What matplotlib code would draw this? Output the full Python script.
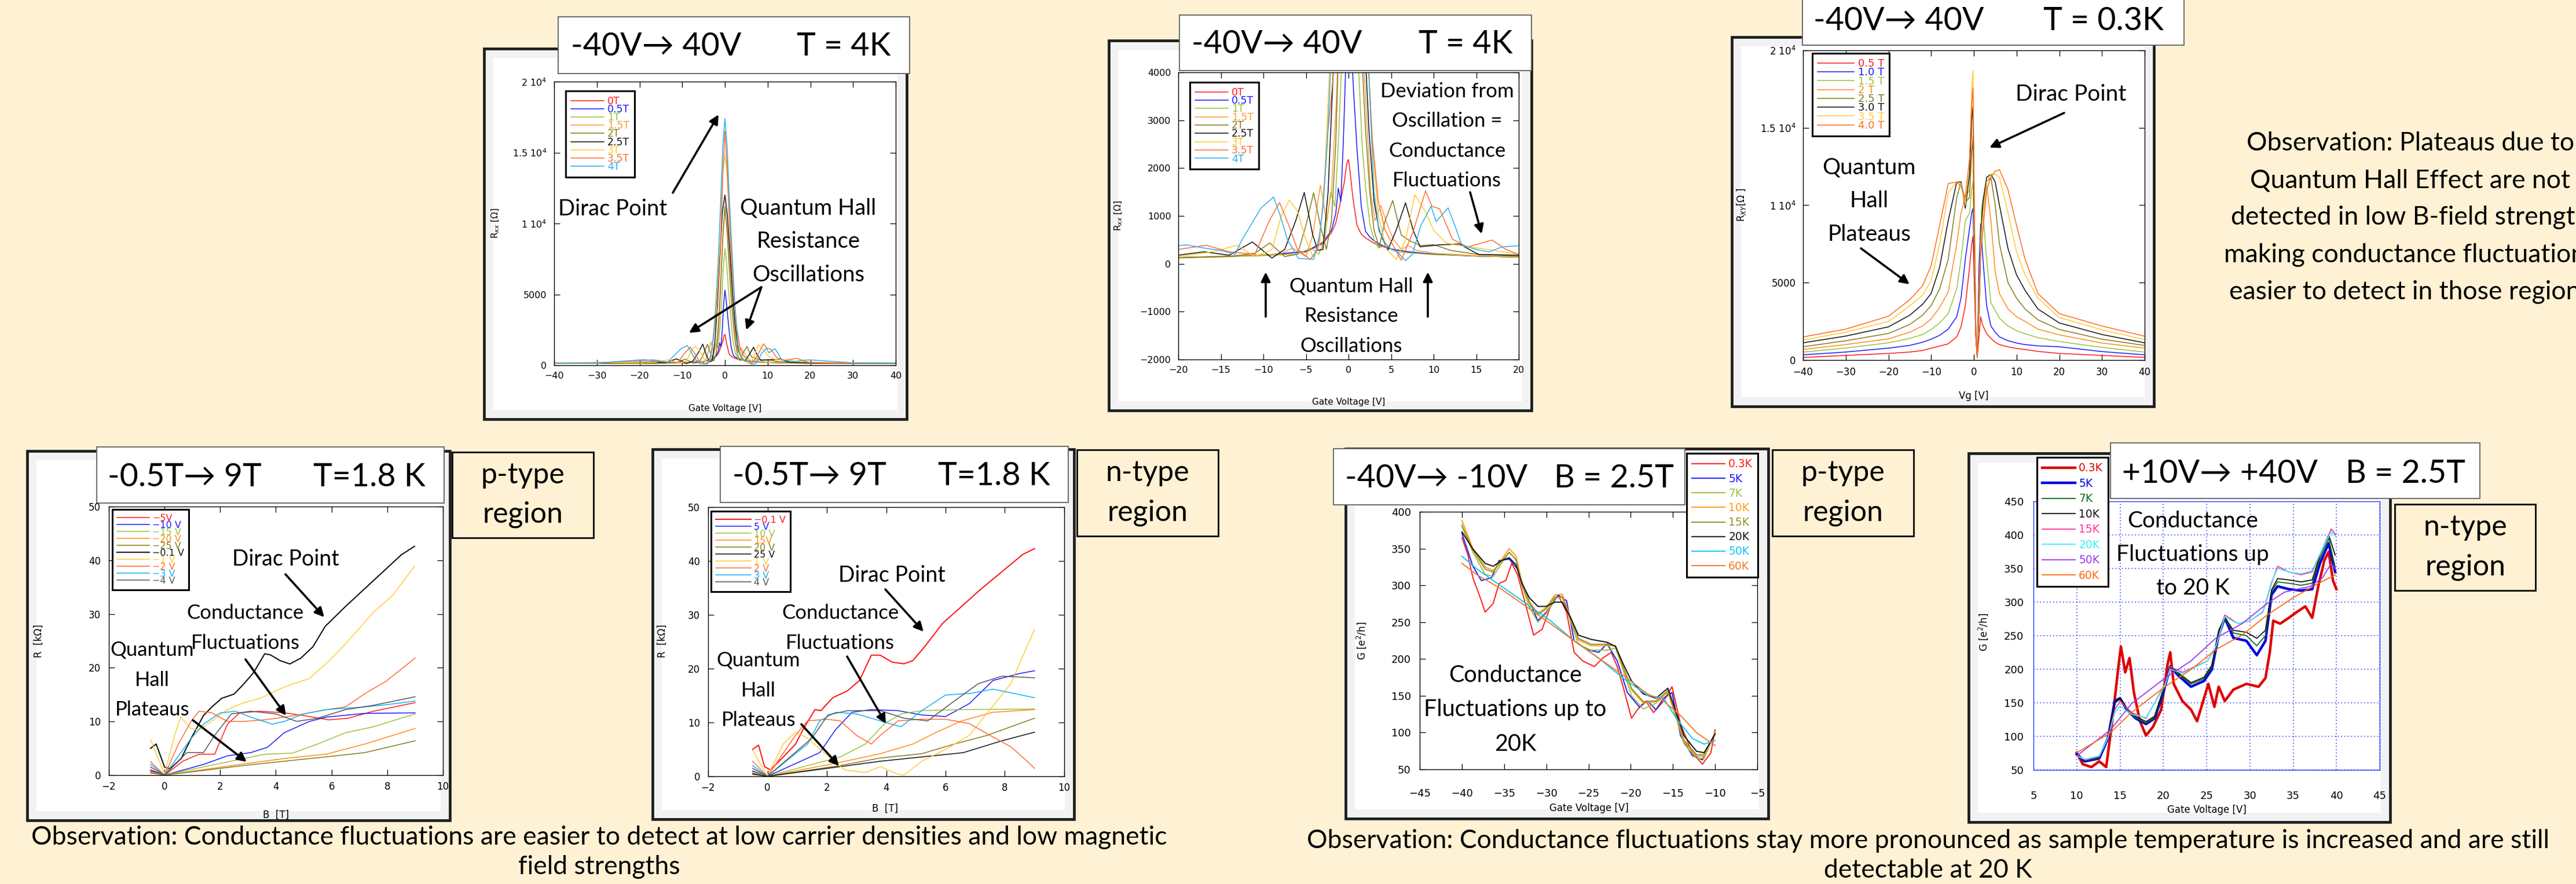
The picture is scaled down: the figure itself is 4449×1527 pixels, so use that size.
"""Poster panel: graphene magnetotransport (Rxx, Rxy, R(B), G(Vg)) recreated with matplotlib."""
import matplotlib

matplotlib.use("Agg")

import matplotlib.pyplot as plt  # noqa: E402
from matplotlib import font_manager  # noqa: E402
from matplotlib.patches import Rectangle  # noqa: E402

W, H = 4449, 1527
BG = "#fff1d3"
TEXT_FONT = ["Lato", "DejaVu Sans"]
_installed = {f.name for f in font_manager.fontManager.ttflist}
NARROW = "Liberation Sans Narrow" if "Liberation Sans Narrow" in _installed else "DejaVu Sans"
PLOT_FONT = "DejaVu Sans"

# ---------------------------------------------------------------- Rxx vs Vg, T = 4K (panels 1 and 2)
RXX_LABELS = ["0T", "0.5T", "1T", "1.5T", "2T", "2.5T", "3T", "3.5T", "4T"]
RXX_COLORS = ["#ff1a1a", "#1a1aff", "#99c23a", "#ff9a3c", "#857a1c", "#111111",
              "#ffc933", "#ff6a30", "#2eaee8"]
VG_0T = [-40, -30, -20, -10, -5, -3, -2, -1.5, -1, -0.5, -0.2, 0, 0.2, 0.5, 1, 1.5, 2, 3, 4, 5,
         7, 10, 15, 20, 30, 40]
RXX_0T = [150, 150, 130, 175, 250, 420, 650, 850, 1250, 1700, 2100, 2180, 1900, 1400, 800, 620,
          540, 430, 360, 310, 250, 200, 160, 140, 130, 120]
VG_05T = [-40, -30, -20, -10, -5, -3, -2, -1.5, -1.2, -0.9, -0.6, -0.3, 0, 0.3, 0.6, 1, 1.5, 2,
          2.5, 3, 4, 5, 7, 10, 15, 20, 30, 40]
RXX_05T = [150, 150, 130, 175, 260, 450, 700, 1050, 1580, 1300, 2600, 4300, 5300, 4600, 3600,
           2400, 1200, 680, 560, 480, 380, 310, 250, 200, 160, 140, 130, 120]
VG_1T = [-40, -30, -20, -10, -6, -4.4, -3.5, -2.8, -2.1, -1.6, -1.2, -0.8, -0.4, 0, 0.4, 0.8,
         1.2, 1.6, 2.0, 2.5, 3, 3.5, 4.4, 5.5, 7, 10, 15, 20, 30, 40]
RXX_1T = [140, 140, 120, 170, 200, 330, 200, 500, 1500, 1200, 2500, 4200, 6800, 8200, 7200, 5500,
          4000, 2500, 1600, 840, 500, 330, 380, 260, 230, 190, 160, 140, 130, 120]
VG_15T = [-40, -30, -20, -12, -8, -6.6, -5, -4.2, -3.3, -2.6, -2.0, -1.4, -0.9, -0.4, 0, 0.5, 1,
          1.5, 2, 2.6, 3.1, 3.8, 4.6, 5.3, 6.2, 7, 8, 10, 15, 20, 30, 40]
RXX_15T = [150, 150, 130, 180, 200, 330, 150, 600, 1645, 900, 1500, 3500, 6500, 9500, 11000, 9800,
           7500, 5200, 3500, 1500, 900, 1220, 800, 500, 300, 380, 280, 220, 170, 150, 130, 120]
VG_2T = [-40, -30, -20, -14, -11, -9.25, -7.5, -6, -5, -4.1, -3.3, -2.6, -2.0, -1.5, -1.0, -0.5,
         0, 0.5, 1, 1.5, 2, 2.5, 3, 3.6, 4.3, 5.2, 6.2, 7.2, 8.5, 10, 12, 15, 20, 30, 40]
RXX_2T = [150, 160, 130, 150, 220, 435, 150, 200, 800, 1484, 800, 300, 900, 2500, 5500, 9000,
          11200, 9500, 7000, 4600, 2800, 1500, 700, 350, 900, 1323, 600, 480, 380, 400, 280, 200,
          160, 140, 130]
VG_25T = [-40, -30, -20, -17, -14, -11.3, -9, -7.5, -6.2, -5.2, -4.2, -3.6, -3.0, -2.4, -1.8,
          -1.2, -0.6, 0, 0.6, 1.2, 1.8, 2.4, 3, 3.6, 4.6, 5.6, 6.7, 7.6, 8.4, 10.7, 13, 15.3, 20,
          30, 40]
RXX_25T = [160, 170, 180, 250, 180, 456, 120, 300, 900, 1490, 600, 280, 300, 1500, 4000, 7500,
           10800, 12000, 10500, 7800, 5000, 2800, 1300, 700, 280, 700, 1274, 700, 355, 395, 415,
           194, 180, 150, 140]
VG_3T = [-40, -30, -20, -16, -13.1, -11, -9, -7.9, -6.95, -6, -5, -4.2, -3.4, -2.8, -2.2, -1.6,
         -1, -0.5, 0, 0.5, 1, 1.6, 2.2, 2.8, 3.5, 4.5, 5.6, 6.7, 7.8, 9, 10, 11.5, 13, 15.8, 20,
         30, 40]
RXX_3T = [160, 200, 150, 250, 387, 150, 300, 1000, 1330, 1100, 500, 150, 400, 1800, 4200, 7500,
          11000, 13500, 14800, 13500, 11000, 7500, 4600, 2500, 1000, 300, 93, 500, 1444, 1100,
          700, 435, 380, 315, 200, 150, 140]
VG_35T = [-40, -30, -20, -16.7, -14, -11, -9.3, -8.1, -7, -6, -4.5, -3.6, -3, -2.4, -1.7, -1,
          -0.5, 0, 0.5, 1, 1.6, 2.2, 2.8, 3.5, 4.3, 5.2, 6.2, 7.6, 9.05, 9.8, 10.7, 12.2, 14,
          16.85, 18.5, 20, 30, 40]
RXX_35T = [150, 180, 300, 387, 250, 200, 900, 1280, 800, 300, 93, 300, 1200, 2800, 4100, 8500,
           13500, 16500, 14000, 10500, 7000, 4600, 2600, 1300, 700, 400, 73, 677, 1524, 1200,
           1150, 516, 350, 496, 300, 194, 150, 140]
VG_4T = [-40, -30, -20, -19, -17, -14.9, -13.3, -12.6, -11.5, -10.3, -8.8, -8, -7.2, -5.9, -4.1,
         -3.4, -3.0, -2.5, -2, -1.5, -1, -0.5, 0, 0.5, 1, 1.5, 2, 2.5, 3, 3.5, 4, 5, 5.6, 6.7,
         7.5, 8.5, 9.7, 10.3, 11.7, 12.5, 13.3, 15, 16.5, 18, 20, 30, 40]
RXX_4T = [150, 150, 380, 395, 330, 274, 200, 476, 800, 1161, 1395, 1000, 516, 113, 93, 597, 1200,
          2500, 4500, 7500, 11500, 15500, 17400, 15500, 12000, 9000, 6000, 3500, 1500, 800, 500,
          300, 274, 65, 200, 800, 1200, 880, 1170, 800, 395, 300, 250, 350, 380, 170, 150]

# ---------------------------------------------------------------- Rxy vs Vg, T = 0.3K (panel 3)
RXY_LABELS = ["0.5 T", "1.0 T", "1.5 T", "2 T", "2.5 T", "3.0 T", "3.5 T", "4.0 T"]
RXY_COLORS = ["#ff1a1a", "#1a1aff", "#99c23a", "#ff8a1a", "#857a1c", "#111111", "#ffc933",
              "#ff6a20"]
VG_03K = [-40, -30, -20, -15, -12, -10, -8, -6, -4, -3, -2, -1, -0.5, -0.2, 0.2, 0.5, 0.8, 1.2,
          1.6, 2, 3, 4, 5, 6, 8, 10, 12, 15, 20, 30, 40]
RXY_05T = [170, 300, 430, 520, 620, 770, 900, 1050, 1500, 2150, 3500, 6000, 7500, 8000, 4000,
           1200, 150, 1500, 2800, 2300, 1700, 1400, 1150, 1000, 850, 750, 680, 560, 430, 300, 170]
RXY_10T = [340, 520, 770, 950, 1150, 1350, 1600, 2000, 2800, 4000, 6500, 8500, 9500, 9800, 5000,
           1500, 200, 6000, 8800, 7000, 3500, 2200, 1800, 1500, 1250, 1100, 1000, 920, 860, 550,
           340]
RXY_15T = [515, 780, 1115, 1400, 1650, 1975, 2400, 3000, 4600, 6500, 9000, 9500, 11000, 11500,
           5000, 1500, 200, 4000, 8000, 10000, 6500, 3700, 3200, 2700, 2200, 1900, 1700, 1450,
           1200, 820, 515]
RXY_2T = [690, 1000, 1370, 1800, 2200, 2660, 3400, 4400, 7500, 9500, 10500, 11000, 13500, 14500,
          6000, 1500, 200, 3000, 7000, 9000, 11300, 9000, 5700, 4300, 3300, 2800, 2500, 2000,
          1630, 1100, 773]
RXY_25T = [860, 1250, 1717, 2300, 2900, 3520, 4600, 6500, 10500, 11500, 10200, 10500, 13500,
           14000, 6000, 1500, 200, 3000, 7000, 9500, 11500, 11800, 10000, 7500, 5000, 4000, 3300,
           2600, 1975, 1350, 945]
RXY_30T = [1115, 1550, 2146, 2900, 3600, 4300, 6000, 9000, 11500, 11500, 9800, 12000, 15500,
           16400, 7000, 1500, 200, 3500, 7500, 10000, 11800, 12000, 11500, 10000, 7200, 5500,
           4500, 3300, 2400, 1650, 1115]
RXY_35T = [1290, 1800, 2490, 3500, 4200, 5100, 7500, 10800, 11500, 11400, 10000, 13000, 17500,
           18700, 8000, 1500, 200, 4000, 7500, 9000, 11500, 12000, 12000, 11800, 9500, 7000, 5500,
           4000, 2750, 1950, 1320]
RXY_40T = [1494, 2000, 2830, 3900, 4800, 6100, 8700, 11400, 11500, 11200, 10500, 13000, 16500,
           17600, 8000, 1500, 200, 4500, 7000, 8000, 11000, 11800, 12200, 12300, 11000, 8700,
           6500, 4300, 3000, 2200, 1545]

# ---------------------------------------------------------------- R vs B, p-type (panel 4)
P_LABELS = ["\u22125V", "\u221210 V", "\u221215 V", "\u221220 V", "\u221225 V", "\u22120.1 V",
            "\u22121 V", "\u22122 V", "\u22123 V", "\u22124 V"]
RB_COLORS = ["#ff1a1a", "#1a1aff", "#99c23a", "#ff8a1a", "#857a1c", "#111111", "#ffcc33",
             "#ff6a30", "#14b0f0", "#555555"]
B_P5 = [-0.5, 0, 0.66, 1.24, 1.8, 2.26, 2.7, 3.43, 4.3, 5.0, 5.9, 6.6, 7.5, 9.0]
R_P5 = [1.0, 0, 2.6, 3.9, 3.9, 9.5, 11.6, 11.9, 11.6, 11.1, 10.3, 10.6, 11.9, 13.5]
B_P10 = [-0.5, 0, 1.4, 2.26, 3.1, 3.7, 4.3, 5.2, 5.8, 7.2, 9.0]
R_P10 = [0.8, 0, 2.0, 3.6, 4.2, 5.2, 7.9, 10.0, 10.8, 11.5, 11.6]
B_P15 = [-0.5, 0, 2.1, 3.6, 4.6, 5.5, 6.5, 7.5, 9.0]
R_P15 = [0.6, 0, 2.3, 3.9, 4.1, 5.8, 7.9, 9.0, 11.4]
B_P20 = [-0.5, 0, 2.85, 4.3, 5.8, 7.2, 9.0]
R_P20 = [0.5, 0, 2.1, 3.1, 3.9, 5.8, 8.7]
B_P25 = [-0.5, 0, 2.85, 4.3, 5.8, 7.2, 9.0]
R_P25 = [0.4, 0, 1.8, 2.6, 3.4, 4.2, 6.4]
B_P01 = [-0.5, -0.3, 0, 0.2, 0.6, 0.95, 1.4, 1.7, 2.05, 2.5, 2.85, 3.2, 3.6, 3.8, 4.16, 4.5, 4.9,
         5.33, 5.77, 6.5, 7.23, 7.96, 8.5, 8.98]
R_P01 = [5.0, 5.8, 1.5, 1.2, 3.1, 6.8, 11.1, 12.7, 14.3, 15.1, 17.0, 19.1, 22.6, 22.4, 21.3, 20.7,
         21.8, 23.9, 27.7, 31.4, 34.9, 38.4, 41.0, 42.6]
B_P1 = [-0.5, 0, 0.36, 0.58, 0.95, 1.24, 1.68, 2.26, 2.85, 3.43, 4.3, 5.2, 5.9, 6.6, 7.5, 8.2,
        8.98]
R_P1 = [6.6, 0.2, 7.4, 10.8, 8.7, 8.4, 10.0, 12.2, 13.5, 14.3, 16.4, 18.0, 21.2, 25.0, 30.3,
        33.5, 38.9]
B_P2 = [-0.5, 0, 0.5, 0.95, 1.24, 1.7, 2.26, 2.85, 3.6, 4.3, 5.0, 5.8, 6.5, 7.2, 7.96, 9.0]
R_P2 = [2.5, 0, 5.8, 10.0, 11.9, 11.6, 10.0, 10.0, 10.3, 10.8, 11.4, 12.2, 12.7, 15.2, 17.5, 21.8]
B_P3 = [-0.5, 0, 0.95, 1.4, 2.0, 2.55, 3.1, 3.87, 4.3, 5.0, 5.8, 7.2, 8.1, 9.0]
R_P3 = [2.0, 0, 6.8, 9.5, 11.6, 11.9, 10.8, 9.5, 10.0, 11.4, 12.2, 12.7, 13.2, 13.8]
B_P4 = [-0.5, 0, 0.8, 1.4, 1.8, 2.4, 3.1, 4.0, 4.75, 5.5, 6.5, 7.5, 9.0]
R_P4 = [1.5, 0, 4.2, 4.2, 7.4, 11.4, 11.9, 11.4, 10.0, 10.6, 12.2, 13.0, 14.6]

# ---------------------------------------------------------------- R vs B, n-type (panel 5)
N_LABELS = ["\u22120.1 V", "5 V", "10 V", "15V", "20 V", "25 V", "1 V", "2 V", "3 V", "4 V"]
RBN_COLORS = ["#ff1a1a", "#1a1aff", "#99c23a", "#ff8a1a", "#857a1c", "#111111", "#ffcc33",
              "#ff6a30", "#14b0f0", "#555555"]
B_N01 = [-0.5, -0.3, -0.1, 0.1, 0.5, 0.95, 1.2, 1.6, 1.8, 2.2, 2.7, 3.1, 3.5, 3.8, 4.2, 4.6, 4.9,
         5.3, 5.9, 6.55, 7.2, 7.9, 8.6, 9.0]
R_N01 = [5.0, 5.8, 1.8, 1.2, 3.4, 6.0, 8.7, 12.4, 12.2, 14.6, 15.9, 17.8, 22.5, 22.5, 21.2, 20.9,
         21.5, 24.1, 28.4, 31.6, 34.8, 38.0, 41.2, 42.3]
B_N5 = [-0.5, 0, 1.76, 2.3, 2.85, 3.5, 4.4, 5.2, 6.0, 6.8, 7.6, 8.5, 9.0]
R_N5 = [1.0, 0, 4.4, 8.7, 11.9, 12.4, 12.2, 11.4, 11.1, 13.5, 17.8, 19.1, 19.6]
B_N10 = [-0.5, 0, 2.45, 3.3, 3.95, 4.5, 5.2, 6.5, 9.0]
R_N10 = [0.8, 0, 3.6, 6.0, 9.8, 11.6, 12.2, 12.4, 12.5]
B_N15 = [-0.5, 0, 2.45, 3.8, 4.9, 5.7, 6.55, 7.6, 9.0]
R_N15 = [0.6, 0, 2.6, 4.2, 6.0, 8.2, 10.3, 11.9, 12.4]
B_N20 = [-0.5, 0, 2.45, 3.8, 5.2, 6.3, 7.4, 8.2, 9.0]
R_N20 = [0.5, 0, 2.0, 3.4, 4.2, 6.0, 7.6, 9.2, 10.8]
B_N25 = [-0.5, 0, 2.45, 3.8, 5.2, 6.6, 7.9, 9.0]
R_N25 = [0.4, 0, 1.8, 2.8, 3.6, 4.4, 6.6, 8.2]
B_N1 = [-0.5, 0, 0.53, 0.94, 1.35, 1.9, 2.6, 3.3, 3.8, 4.4, 4.6, 5.2, 6.0, 6.8, 7.5, 8.2, 9.0]
R_N1 = [4.8, 0, 6.0, 8.2, 7.1, 4.4, 1.2, 0.7, 1.8, 0.4, 0.2, 2.8, 5.0, 7.6, 12.4, 17.2, 27.3]
B_N2 = [-0.5, 0, 0.94, 1.35, 2.0, 2.45, 3.0, 3.5, 3.8, 4.4, 5.2, 6.0, 6.8, 7.5, 8.2, 8.75, 9.0]
R_N2 = [2.8, 0, 7.6, 10.3, 10.6, 10.3, 7.6, 6.0, 7.6, 10.3, 10.6, 10.6, 9.8, 7.6, 5.5, 2.8, 1.5]
B_N3 = [-0.5, 0, 1.35, 1.76, 2.3, 3.0, 3.8, 4.5, 5.2, 6.0, 6.85, 7.6, 8.3, 9.0]
R_N3 = [2.0, 0, 6.0, 10.3, 11.9, 11.6, 10.3, 9.2, 12.2, 15.1, 15.4, 16.2, 15.4, 14.6]
B_N4 = [-0.5, 0, 1.5, 2.04, 2.7, 3.8, 4.6, 5.4, 6.3, 7.1, 7.9, 9.0]
R_N4 = [1.5, 0, 7.1, 11.4, 12.2, 12.2, 10.8, 10.3, 14.0, 17.2, 18.6, 18.3]

# ---------------------------------------------------------------- G vs Vg, p-type, B = 2.5T (panel 6)
T_LABELS = ["0.3K", "5K", "7K", "10K", "15K", "20K", "50K", "60K"]
GP_COLORS = ["#ff1a1a", "#1a1aff", "#99c23a", "#ff9a1a", "#9a9030", "#111111", "#10c4f4",
             "#f07a2a"]
VP_03K = [-40, -39.3, -38.7, -37.7, -37.25, -36.3, -35.6, -34.8, -34.1, -33.4, -32.4, -31.5,
          -30.5, -29.5, -28.6, -27.6, -26.7, -25.7, -24.3, -23.3, -22.3, -21.6, -20.9, -19.9,
          -19.2, -18.2, -17.3, -16.1, -15.1, -14.1, -12.7, -11.5, -10.5, -10]
GP_03K = [364.9, 341.5, 310.4, 279.2, 263.6, 275.3, 302.6, 306.5, 329.9, 314.3, 271.4, 232.4,
          240.2, 271.4, 287.0, 263.6, 209.0, 197.4, 189.6, 201.3, 209.0, 189.6, 162.3, 119.4,
          131.1, 142.8, 127.2, 142.8, 162.3, 111.6, 72.6, 57.0, 72.6, 103.8]
VP_5K = [-40, -38.7, -37.7, -36.5, -35.6, -34.4, -33.4, -32.2, -31, -30, -28.6, -27.6, -26.7,
         -25.2, -23.8, -22.8, -21.6, -20.4, -19, -18, -17, -16.1, -15.1, -14.1, -12.7, -11.5,
         -10]
GP_5K = [370.8, 326.0, 306.5, 310.4, 333.7, 335.7, 322.0, 283.0, 251.9, 263.6, 287.0, 279.2,
         224.7, 212.9, 209.0, 220.7, 197.4, 154.5, 135.0, 142.8, 131.1, 146.7, 154.5, 96.0, 68.7,
         62.9, 99.9]
VP_T = [-40, -38.7, -37.25, -36.3, -35.3, -34.4, -33.6, -32.9, -32, -31, -30, -29, -28.1, -27.1,
        -26.2, -24.7, -22.8, -21.8, -20.9, -19.9, -18.5, -17, -15.6, -14.6, -13.7, -12.2, -11.3,
        -10]
GP_7K = [380, 345, 315, 312, 330, 345, 335, 300, 270, 250, 262, 282, 285, 250, 220, 212, 212,
         215, 185, 150, 132, 140, 155, 120, 85, 65, 65, 100]
GP_10K = [388, 350, 325, 320, 335, 350, 340, 305, 278, 262, 270, 287, 288, 255, 226, 218, 218,
          218, 188, 158, 140, 142, 155, 120, 88, 68, 68, 100]
GP_15K = [382, 348, 322, 318, 333, 345, 335, 303, 276, 260, 268, 284, 284, 252, 228, 220, 220,
          218, 190, 160, 142, 143, 157, 122, 90, 70, 70, 99]
GP_20K = [372.7, 349.3, 329.9, 326.0, 333.7, 337.6, 328.0, 302.6, 283.0, 271.4, 271.4, 277.2,
          277.2, 255.8, 232.4, 226.6, 222.7, 216.9, 193.5, 170.1, 152.5, 146.7, 160.3, 127.2,
          96.0, 74.6, 72.6, 97.9]
VP_50K = [-40, -38.2, -35.3, -32.4, -29.5, -26.7, -23.8, -20.9, -18, -16.1, -14.6, -12.7, -11.3,
          -10]
GP_50K = [339.6, 322.0, 298.7, 275.3, 251.9, 224.6, 201.2, 174.0, 150.6, 146.7, 119.4, 92.1,
          84.3, 89.0]
VP_60K = [-40, -38.2, -35.3, -32.4, -29.5, -26.7, -23.8, -20.9, -18, -16.1, -14.1, -12.2, -10]
GP_60K = [329.9, 314.3, 294.8, 271.4, 248.0, 224.6, 201.2, 177.9, 152.5, 142.8, 123.3, 99.9,
          82.4]

# ---------------------------------------------------------------- G vs Vg, n-type, B = 2.5T (panel 7)
GN_COLORS = ["#dd0000", "#0000dd", "#0a6a1a", "#111111", "#ff3399", "#3cf0ff", "#9a38ee",
             "#ff6a10"]
VN_03K = [10, 10.7, 11.7, 12.6, 13.4, 14.1, 14.85, 15.1, 15.6, 16.1, 16.6, 17.3, 18, 18.8, 19.75,
          20.5, 20.8, 21.2, 22.2, 23.2, 23.9, 24.7, 25.2, 25.9, 26.4, 27.1, 28.1, 29.6, 31, 31.8,
          32.3, 32.7, 33.5, 34.5, 35.4, 36.4, 37.2, 37.9, 38.6, 39.1, 39.6, 40]
GN_03K = [75.6, 58.5, 54.3, 62.8, 54.3, 122.6, 208.0, 233.8, 195.3, 216.7, 165.4, 122.6, 101.3,
          114.1, 139.7, 208.0, 225.2, 178.2, 152.6, 139.7, 122.6, 156.8, 178.2, 144.0, 173.9,
          152.6, 169.7, 178.2, 173.9, 186.8, 225.2, 272.2, 267.9, 276.5, 285.0, 293.6, 276.5,
          323.5, 362.0, 374.8, 332.1, 319.2]
VN_LOW = [10, 10.9, 12.6, 13.6, 14.4, 15, 15.8, 16.8, 18, 19, 20, 20.8, 21.7, 23.2, 24.7, 25.6,
          26.4, 27.1, 28.1, 29.6, 30.8, 31.8, 32.5, 33.2, 34.5, 35.9, 37.2, 38.1, 39.1, 39.85]
GN_5K = [73.5, 62.8, 67.1, 97.0, 152.6, 156.8, 139.7, 126.9, 118.4, 126.9, 165.4, 203.8, 191.0,
         173.9, 182.5, 199.6, 250.9, 276.5, 246.6, 242.3, 220.9, 242.3, 310.7, 323.5, 319.2,
         317.1, 319.2, 357.7, 387.6, 344.9]
GN_7K = [72, 64, 68, 98, 150, 155, 140, 128, 120, 128, 168, 205, 193, 178, 186, 203, 255, 276,
         254, 250, 235, 250, 315, 330, 328, 325, 328, 365, 395, 352]
GN_10K = [72, 65, 69, 99, 150, 157, 142, 130, 122, 130, 170, 205, 195, 180, 188, 206, 258, 277,
          258, 255, 246, 258, 318, 335, 333, 330, 333, 370, 400, 370]
VN_HIGH = [10, 11, 12.6, 13.6, 14.4, 15, 16.3, 18, 20.2, 20.8, 22.2, 25.1, 26.1, 27.1, 28.6, 30,
           31.5, 32.5, 33.2, 34.5, 35.9, 37.2, 38.4, 39.4, 39.9]
GN_15K = [71, 65, 70, 97, 139.7, 152.6, 135.5, 126.9, 178.2, 203.8, 195.3, 212.4, 233.8, 280.8,
          267.9, 272.2, 285.0, 327.8, 353.4, 344.9, 340.6, 344.9, 379.1, 409.0, 400.4]
GN_20K = [71, 66, 71, 98, 135, 145, 133, 128, 176, 200, 194, 212, 235, 278, 268, 272, 286, 330,
          350, 345, 342, 347, 380, 405, 398]
VN_50K = [10, 13.9, 16.3, 20.2, 23.2, 26.1, 29.1, 32, 34, 37, 38.4, 39.4, 39.9]
GN_50K = [71, 109.8, 148.3, 186.8, 212.4, 246.6, 267.9, 297.9, 314.8, 323.5, 336.3, 357.7, 349]
VN_60K = [10, 13.9, 16.3, 20.2, 23.2, 26.1, 29.1, 32, 35, 37.9, 39.9]
GN_60K = [75.6, 105.6, 135.5, 174.0, 199.6, 229.5, 250.9, 280.8, 306.4, 327.8, 340.6]

R_TICKS = [0, 5000, 10000, 15000, 20000]
R_TICK_LABELS = ["0", "5000", "1 10$^{4}$", "1.5 10$^{4}$", "2 10$^{4}$"]

fig = plt.figure(figsize=(W / 100, H / 100), dpi=100, facecolor=BG)
bg = fig.add_axes([0, 0, 1, 1], zorder=0)
bg.set_xlim(0, W)
bg.set_ylim(H, 0)
bg.axis("off")
fg = fig.add_axes([0, 0, 1, 1], zorder=20)
fg.set_xlim(0, W)
fg.set_ylim(H, 0)
fg.axis("off")
fg.patch.set_alpha(0)


def frame(x0, y0, x1, y1):
    bg.add_patch(Rectangle((x0, y0), x1 - x0, y1 - y0, fc="#f2f2f2", ec="#1e1e1e", lw=3.4))
    bg.add_patch(Rectangle((x0 + 16, y0 + 16), x1 - x0 - 32, y1 - y0 - 32, fc="white", ec="none"))


def title_box(box, left, right, lx, rx, cy, size=40):
    x0, y0, x1, y1 = box
    bg.add_patch(Rectangle((x0, y0), x1 - x0, y1 - y0, fc="white", ec="#606060", lw=1.3, zorder=3))
    bg.text(lx, cy, left, ha="left", va="center", fontsize=size, family=TEXT_FONT, zorder=4)
    bg.text(rx, cy, right, ha="right", va="center", fontsize=size, family=TEXT_FONT, zorder=4)


def region_box(box, text):
    x0, y0, x1, y1 = box
    bg.add_patch(Rectangle((x0, y0), x1 - x0, y1 - y0, fc=BG, ec="black", lw=2, zorder=3))
    bg.text((x0 + x1) / 2, (y0 + y1) / 2, text, ha="center", va="center", fontsize=36,
            family=TEXT_FONT, linespacing=1.6, zorder=4)


def note(x, y, text, size, spacing=1.75):
    fg.text(x, y, text, ha="center", va="center", fontsize=size, family=TEXT_FONT,
            linespacing=spacing, multialignment="center")


def arrow(tail, head):
    fg.annotate("", xy=head, xytext=tail,
                arrowprops=dict(arrowstyle="-|>", color="black", lw=2.6, mutation_scale=24,
                                shrinkA=0, shrinkB=0))


def panel_axes(rect):
    x0, y0, x1, y1 = rect
    ax = fig.add_axes([x0 / W, 1 - y1 / H, (x1 - x0) / W, (y1 - y0) / H], zorder=5)
    ax.set_facecolor("white")
    return ax


def axis_labels(ax, rect, xlabel, xpos, ylabel, ypos, size, family):
    x0, y0, x1, y1 = rect
    ax.set_xlabel(xlabel, fontsize=size, family=family)
    ax.set_ylabel(ylabel, fontsize=size, family=family)
    ax.xaxis.set_label_coords((xpos[0] - x0) / (x1 - x0), (y1 - xpos[1]) / (y1 - y0))
    ax.yaxis.set_label_coords((ypos[0] - x0) / (x1 - x0), (y1 - ypos[1]) / (y1 - y0))
    ax.xaxis.label.set_va("center")
    ax.yaxis.label.set_va("center")


def style_ticks(ax, size, family, xpad, ypad, length=7, color="black"):
    ax.tick_params(direction="in", top=True, right=True, length=length, width=0.9,
                   labelsize=size, labelfontfamily=family, color=color)
    ax.tick_params(axis="x", pad=xpad)
    ax.tick_params(axis="y", pad=ypad)
    for s in ax.spines.values():
        s.set_linewidth(1.0)
        s.set_color(color)


def legend(ax, handles, labels, x0, y0, size, family, hlen, spacing, lw=2.2):
    leg = ax.legend(handles, labels, loc="upper left", bbox_to_anchor=(x0 / W, 1 - y0 / H),
                    bbox_transform=fig.transFigure, borderaxespad=0, frameon=True,
                    fancybox=False, edgecolor="black", framealpha=1, borderpad=0.5,
                    handlelength=hlen, handletextpad=0.35, labelspacing=spacing,
                    prop={"family": family, "size": size}, labelcolor="linecolor")
    leg.get_frame().set_linewidth(lw)
    leg.set_zorder(30)
    return leg


# ---------------------------------------------------------------- panel 1 and 2: Rxx at 4K
RXX_SERIES = [(VG_0T, RXX_0T), (VG_05T, RXX_05T), (VG_1T, RXX_1T), (VG_15T, RXX_15T),
              (VG_2T, RXX_2T), (VG_25T, RXX_25T), (VG_3T, RXX_3T), (VG_35T, RXX_35T),
              (VG_4T, RXX_4T)]

frame(836, 84, 1566, 724)
title_box((964, 29, 1571, 127), "-40V\u2192 40V", "T = 4K", 986, 1539, 80)
rect1 = (957, 141, 1547, 631)
ax1 = panel_axes(rect1)
h1 = [ax1.plot(v, r, color=c, lw=1.1)[0] for (v, r), c in zip(RXX_SERIES, RXX_COLORS)]
ax1.set_xlim(-40, 40)
ax1.set_ylim(0, 20000)
ax1.set_xticks(range(-40, 41, 10))
ax1.set_yticks(R_TICKS, R_TICK_LABELS)
style_ticks(ax1, 11.5, PLOT_FONT, 8, 9)
axis_labels(ax1, rect1, "Gate Voltage [V]", (1252, 705), "R$_{xx}$ [\u03a9]", (856, 386), 11,
            PLOT_FONT)
legend(ax1, h1, RXX_LABELS, 977, 157, 12.5, NARROW, 3.3, -0.22)
note(1058, 361, "Dirac Point", 27.5)
arrow((1162, 333), (1241, 198))
note(1396, 417, "Quantum Hall\nResistance\nOscillations", 27.5)
arrow((1315, 496), (1190, 575))
arrow((1315, 496), (1289, 570))

frame(1915, 70, 2645, 709)
title_box((2037, 26, 2645, 122), "-40V\u2192 40V", "T = 4K", 2058, 2612, 77)
rect2 = (2035, 125, 2623, 621)
ax2 = panel_axes(rect2)
h2 = [ax2.plot(v, r, color=c, lw=1.1)[0] for (v, r), c in zip(RXX_SERIES, RXX_COLORS)]
ax2.set_xlim(-20, 20)
ax2.set_ylim(-2000, 4000)
ax2.set_xticks(range(-20, 21, 5))
ax2.set_yticks(range(-2000, 4001, 1000))
style_ticks(ax2, 11.5, PLOT_FONT, 8, 9)
axis_labels(ax2, rect2, "Gate Voltage [V]", (2329, 695), "R$_{xx}$ [\u03a9]", (1932, 373), 11,
            PLOT_FONT)
legend(ax2, h2, RXX_LABELS, 2055, 142, 12.5, NARROW, 3.3, -0.21)
note(2499, 235, "Deviation from\nOscillation =\nConductance\nFluctuations", 25)
arrow((2539, 332), (2559, 404))
note(2334, 546, "Quantum Hall\nResistance\nOscillations", 25)
arrow((2186, 547), (2186, 470))
arrow((2466, 547), (2466, 470))

# ---------------------------------------------------------------- panel 3: Rxy at 0.3K
RXY_SERIES = [RXY_05T, RXY_10T, RXY_15T, RXY_2T, RXY_25T, RXY_30T, RXY_35T, RXY_40T]
frame(2991, 64, 3720, 702)
title_box((3113, -5, 3772, 78), "-40V\u2192 40V", "T = 0.3K", 3132, 3737, 36)
rect3 = (3114, 87, 3704, 622)
ax3 = panel_axes(rect3)
h3 = [ax3.plot(VG_03K, r, color=c, lw=1.1)[0] for r, c in zip(RXY_SERIES, RXY_COLORS)]
ax3.set_xlim(-40, 40)
ax3.set_ylim(0, 20000)
ax3.set_xticks(range(-40, 41, 10))
ax3.set_yticks(R_TICKS, R_TICK_LABELS)
style_ticks(ax3, 12, NARROW, 9, 9)
axis_labels(ax3, rect3, "Vg [V]", (3409, 684), "R$_{XY}$[\u03a9 ]", (3008, 354), 12, NARROW)
legend(ax3, h3, RXY_LABELS, 3130, 92, 13, NARROW, 3.5, -0.15)
note(3577, 163, "Dirac Point", 28)
arrow((3565, 195), (3436, 255))
note(3228, 347, "Quantum\nHall\nPlateaus", 28)
arrow((3214, 429), (3298, 491))
note(4163, 376, "Observation: Plateaus due to\nQuantum Hall Effect are not\n"
     "detected in low B-field strength\nmaking conductance fluctuations\n"
     "easier to detect in those regions", 32, 1.7)

# ---------------------------------------------------------------- panel 4: p-type R(B)
P_SERIES = [(B_P5, R_P5), (B_P10, R_P10), (B_P15, R_P15), (B_P20, R_P20), (B_P25, R_P25),
            (B_P01, R_P01), (B_P1, R_P1), (B_P2, R_P2), (B_P3, R_P3), (B_P4, R_P4)]
frame(47, 779, 777, 1417)
title_box((167, 772, 767, 869), "-0.5T\u2192 9T", "T=1.8 K", 186, 735, 825)
region_box((781, 781, 1025, 929), "p-type\nregion")
rect4 = (188, 875, 765, 1339)
ax4 = panel_axes(rect4)
h4 = [ax4.plot(b, r, color=c, lw=1.5 if i == 5 else 1.1)[0]
      for i, ((b, r), c) in enumerate(zip(P_SERIES, RB_COLORS))]
ax4.set_xlim(-2, 10)
ax4.set_ylim(0, 50)
ax4.set_xticks(range(-2, 11, 2))
ax4.set_yticks(range(0, 51, 10))
style_ticks(ax4, 12, NARROW, 8, 10)
axis_labels(ax4, rect4, "B  [T]", (477, 1408), "R  [k\u03a9]", (67, 1107), 12, NARROW)
legend(ax4, h4, P_LABELS, 194, 880, 11.5, NARROW, 3.5, -0.19)
note(493, 966, "Dirac Point", 27)
arrow((493, 992), (560, 1066))
note(424, 1085, "Conductance\nFluctuations", 25)
arrow((424, 1139), (494, 1236))
note(263, 1175, "Quantum\nHall\nPlateaus", 25)
arrow((333, 1244), (426, 1316))

# ---------------------------------------------------------------- panel 5: n-type R(B)
N_SERIES = [(B_N01, R_N01), (B_N5, R_N5), (B_N10, R_N10), (B_N15, R_N15), (B_N20, R_N20),
            (B_N25, R_N25), (B_N1, R_N1), (B_N2, R_N2), (B_N3, R_N3), (B_N4, R_N4)]
frame(1127, 776, 1855, 1415)
title_box((1244, 771, 1845, 868), "-0.5T\u2192 9T", "T=1.8 K", 1265, 1814, 823)
region_box((1860, 777, 2104, 926), "n-type\nregion")
rect5 = (1223, 876, 1838, 1341)
ax5 = panel_axes(rect5)
h5 = [ax5.plot(b, r, color=c, lw=1.5 if i == 0 else 1.1)[0]
      for i, ((b, r), c) in enumerate(zip(N_SERIES, RBN_COLORS))]
ax5.set_xlim(-2, 10)
ax5.set_ylim(0, 50)
ax5.set_xticks(range(-2, 11, 2))
ax5.set_yticks(range(0, 51, 10))
style_ticks(ax5, 12, NARROW, 8, 10)
axis_labels(ax5, rect5, "B  [T]", (1529, 1397), "R  [k\u03a9]", (1144, 1107), 12, NARROW)
legend(ax5, h5, N_LABELS, 1228, 883, 11.5, NARROW, 3.8, -0.19)
note(1540, 994, "Dirac Point", 27)
arrow((1529, 1018), (1595, 1091))
note(1451, 1085, "Conductance\nFluctuations", 25)
arrow((1463, 1134), (1530, 1250))
note(1310, 1193, "Quantum\nHall\nPlateaus", 25)
arrow((1384, 1251), (1449, 1323))
note(1035, 1472, "Observation: Conductance fluctuations are easier to detect at low carrier "
     "densities and low magnetic\nfield strengths", 32, 1.32)

# ---------------------------------------------------------------- panel 6: p-type G(Vg)
GP_SERIES = [(VP_03K, GP_03K), (VP_5K, GP_5K), (VP_T, GP_7K), (VP_T, GP_10K), (VP_T, GP_15K),
             (VP_T, GP_20K), (VP_50K, GP_50K), (VP_60K, GP_60K)]
frame(2324, 775, 3054, 1414)
title_box((2303, 775, 2910, 872), "-40V\u2192 -10V", "B = 2.5T", 2323, 2891, 827)
region_box((3061, 777, 3305, 926), "p-type\nregion")
rect6 = (2452, 884, 3035, 1329)
ax6 = panel_axes(rect6)
h6 = [ax6.plot(v, g, color=c, lw=1.4)[0] for (v, g), c in zip(GP_SERIES, GP_COLORS)]
ax6.set_xlim(-45, -5)
ax6.set_ylim(50, 400)
ax6.set_xticks(range(-45, -4, 5))
ax6.set_yticks(range(50, 401, 50))
style_ticks(ax6, 13, NARROW, 24, 11)
axis_labels(ax6, rect6, "Gate Voltage [V]", (2744, 1396), "G [e$^{2}$/h]", (2351, 1107), 12,
            NARROW)
legend(ax6, h6, T_LABELS, 2913, 783, 13.5, NARROW, 3.0, 0.33)
note(2617, 1226, "Conductance\nFluctuations up to\n20K", 28.5)

# ---------------------------------------------------------------- panel 7: n-type G(Vg)
GN_SERIES = [(VN_03K, GN_03K), (VN_LOW, GN_5K), (VN_LOW, GN_7K), (VN_LOW, GN_10K),
             (VN_HIGH, GN_15K), (VN_HIGH, GN_20K), (VN_50K, GN_50K), (VN_60K, GN_60K)]
GN_WIDTHS = [3.2, 3.2, 1.3, 1.3, 1.3, 1.3, 1.3, 1.3]
frame(3400, 783, 4128, 1420)
title_box((3645, 765, 4283, 861), "+10V\u2192 +40V", "B = 2.5T", 3665, 4258, 819)
region_box((4136, 871, 4379, 1020), "n-type\nregion")
rect7 = (3512, 866, 4110, 1330)
ax7 = panel_axes(rect7)
h7 = [ax7.plot(v, g, color=c, lw=w)[0] for (v, g), c, w in zip(GN_SERIES, GN_COLORS, GN_WIDTHS)]
ax7.set_xlim(5, 45)
ax7.set_ylim(50, 450)
ax7.set_xticks(range(5, 46, 5))
ax7.set_yticks(range(50, 451, 50))
ax7.grid(True, color="#3344ff", linestyle=(0, (1.2, 2.5)), linewidth=1.1)
style_ticks(ax7, 13, NARROW, 26, 12, length=0, color="#2233ff")
ax7.tick_params(labelcolor="black")
axis_labels(ax7, rect7, "Gate Voltage [V]", (3811, 1399), "G [e$^{2}$/h]", (3425, 1092), 12,
            NARROW)
legend(ax7, h7, T_LABELS, 3518, 790, 13.5, NARROW, 3.0, 0.40)
note(3787, 958, "Conductance\nFluctuations up\nto 20 K", 28)
note(3330, 1478, "Observation: Conductance fluctuations stay more pronounced as sample "
     "temperature is increased and are still\ndetectable at 20 K", 32, 1.32)

fig.savefig("out.png", dpi=100, facecolor=BG)
